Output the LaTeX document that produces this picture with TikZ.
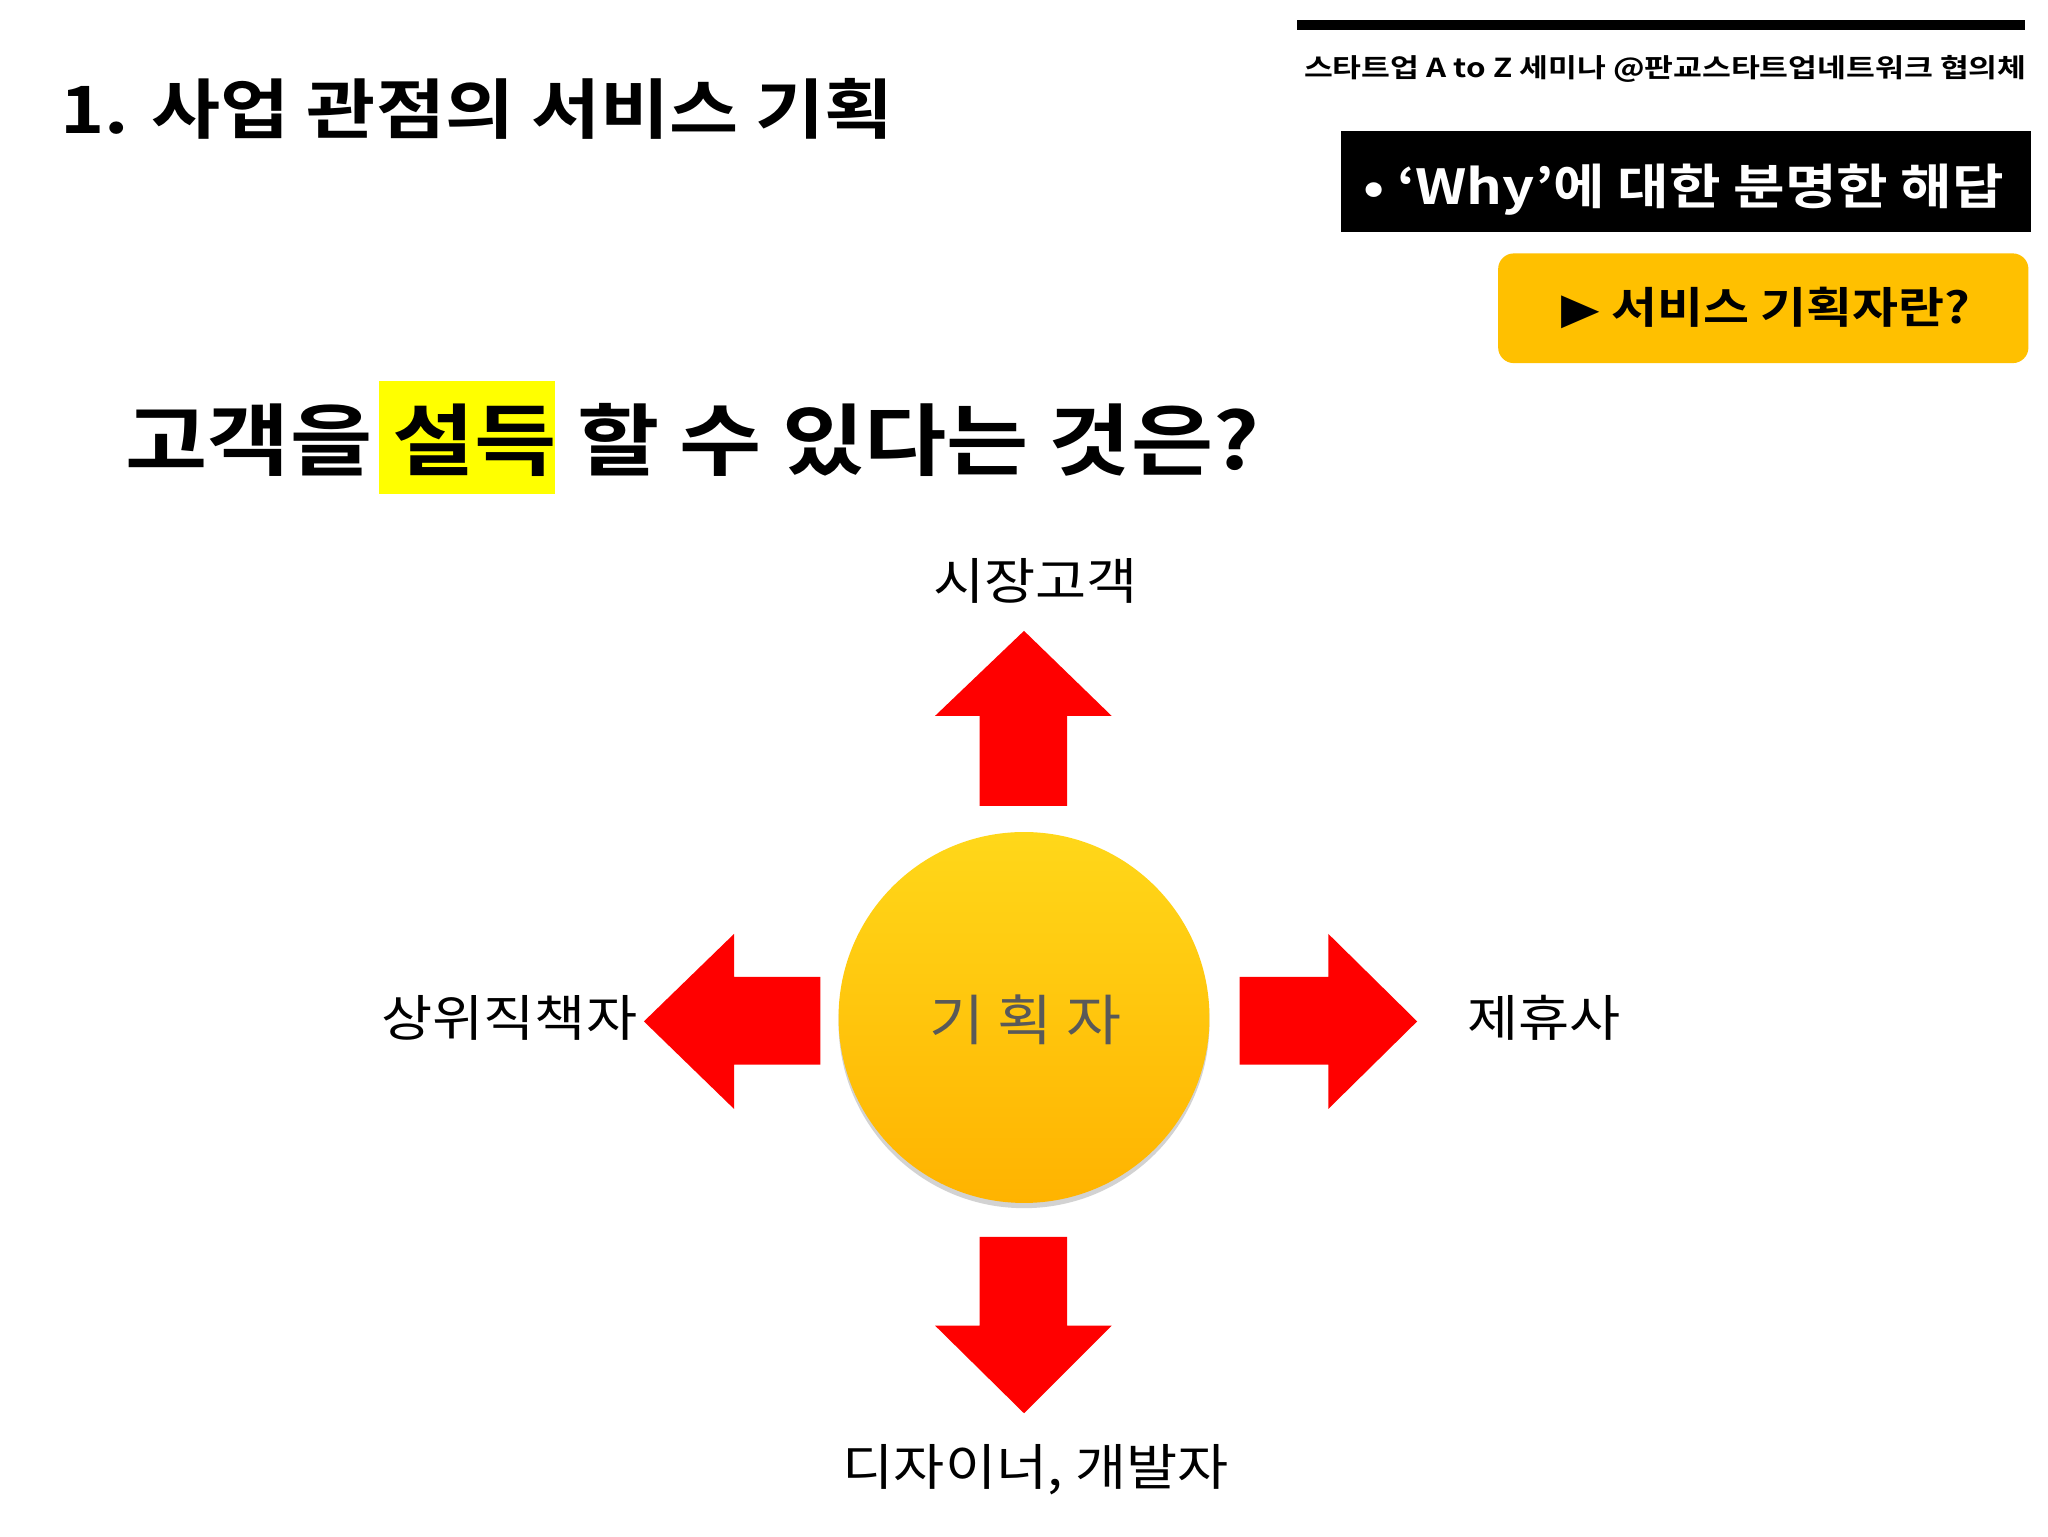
\documentclass[tikz,border=0pt]{standalone}
\usepackage{fontspec}
\setmainfont{Noto Sans CJK KR}
\newfontfamily\kb{Noto Sans CJK KR Bold}
\usetikzlibrary{shadows,shapes.geometric}
\definecolor{gold}{HTML}{FFC000}
\definecolor{hl}{HTML}{FFFF00}
\definecolor{arr}{HTML}{FF0000}
\begin{document}
\begin{tikzpicture}[x=1pt,y=-1pt,
  lbl/.style={font=\fontsize{38}{40}\selectfont, inner sep=0pt},
  arrowshape/.style={fill=arr, draw=none}]
\useasboundingbox (0,0) rectangle (1568,1176);
\fill[white] (0,0) rectangle (1568,1176);
% header
\fill[black] (993,15) rectangle (1550,23);
\node[font=\kb\fontsize{20}{22}\selectfont, inner sep=0pt] (hdr) at (1275,53) {\scalebox{1.2}[1]{스타트업 A to Z 세미나 @판교스타트업네트워크 협의체}};
\node[font=\kb\fontsize{50}{52}\selectfont, anchor=west, inner sep=0pt] (title) at (46,83) {\scalebox{1.15}[1]{1. 사업 관점의 서비스 기획}};
\fill[black] (1027,100) rectangle (1555,178);
\node[font=\kb\fontsize{37}{40}\selectfont, text=white, inner sep=0pt] (why) at (1289,145) {\scalebox{1.16}[1]{• ‘Why’에 대한 분명한 해답}};
\fill[gold, rounded corners=12pt] (1147,194) rectangle (1553,278);
\node[font=\kb\fontsize{33}{36}\selectfont, inner sep=0pt] (plan) at (1352,236) {\scalebox{1.16}[1]{\fontspec{DejaVu Sans}▶\kb{} 서비스 기획자란?}};
% question
\fill[hl] (290,292) rectangle (425,378);
\node[font=\kb\fontsize{60}{62}\selectfont, anchor=west, inner sep=0pt] (q) at (96,337) {\scalebox{1.14}[1]{고객을 설득 할 수 있다는 것은?}};
% circle
\shade[top color=gold!70!yellow!90, bottom color=orange!20!gold, drop shadow={shadow xshift=0pt, shadow yshift=-4pt, opacity=0.35}] (784,779) circle (142);
\node[font=\fontsize{42}{44}\selectfont, text=black!65, inner sep=0pt] (me) at (785,781) {\scalebox{1.09}[1]{기 획 자}};
% arrows
\fill[arrowshape] (750,617) -- (750,548) -- (716,548) -- (784,483) -- (851,548) -- (817,548) -- (817,617) -- cycle;
\fill[arrowshape] (750,947) -- (750,1015) -- (716,1015) -- (784,1082) -- (851,1015) -- (817,1015) -- (817,947) -- cycle;
\fill[arrowshape] (949,748) -- (1017,748) -- (1017,715) -- (1085,782) -- (1017,849) -- (1017,815) -- (949,815) -- cycle;
\fill[arrowshape] (628,748) -- (562,748) -- (562,715) -- (493,782) -- (562,849) -- (562,815) -- (628,815) -- cycle;
% labels
\node[lbl] (l1) at (793,445) {\scalebox{1.12}[1]{시장고객}};
\node[lbl] (l2) at (390,779) {\scalebox{1.12}[1]{상위직책자}};
\node[lbl] (l3) at (1182,779) {\scalebox{1.12}[1]{제휴사}};
\node[lbl] (l4) at (793,1125) {\scalebox{1.12}[1]{디자이너, 개발자}};
\end{tikzpicture}
\end{document}
